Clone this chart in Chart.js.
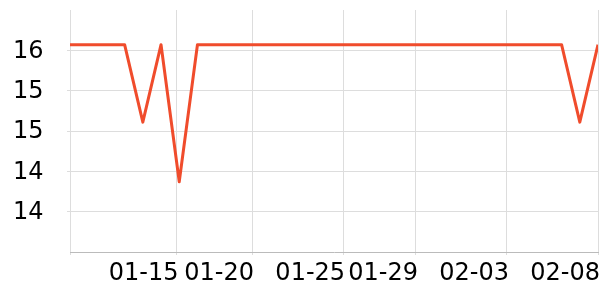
<!DOCTYPE html>
<html>
<head>
<meta charset="utf-8">
<script src="https://cdn.jsdelivr.net/npm/chart.js@4/dist/chart.umd.min.js"></script>
<style>
  body { margin: 0; background: #fff; }
  #wrap { width: 600px; height: 300px; }
</style>
</head>
<body>
<div id="wrap"><canvas id="chart" width="600" height="300"></canvas></div>
<script>
// one value per day, 01-10 .. 02-08
const dates = ['01-10', '01-11', '01-12', '01-13', '01-14', '01-15', '01-16', '01-17', '01-18', '01-19',
  '01-20', '01-21', '01-22', '01-23', '01-24', '01-25', '01-26', '01-27', '01-28', '01-29',
  '01-30', '01-31', '02-01', '02-02', '02-03', '02-04', '02-05', '02-06', '02-07', '02-08'];
const values = [16.07, 16.07, 16.07, 16.07, 15.11, 16.07, 14.37, 16.07, 16.07, 16.07,
  16.07, 16.07, 16.07, 16.07, 16.07, 16.07, 16.07, 16.07, 16.07, 16.07,
  16.07, 16.07, 16.07, 16.07, 16.07, 16.07, 16.07, 16.07, 15.11, 16.07];

// x ticks (in days from first point) and their labels
const xTickPos = [0, 5.85, 10, 15, 19, 24, 29];
const xTickLabels = ['', '01-15', '01-20', '01-25', '01-29', '02-03', '02-08'];
// y ticks and labels as printed
const yTickPos = [14, 14.5, 15, 15.5, 16];
const yTickLabels = ['14', '14', '15', '15', '16'];

const gridColor = '#dddddd';

const ctx = document.getElementById('chart').getContext('2d');
new Chart(ctx, {
  type: 'line',
  data: {
    datasets: [{
      data: values.map((v, i) => ({ x: i, y: v })),
      borderColor: '#f04c2c',
      borderWidth: 3,
      borderJoinStyle: 'round',
      pointRadius: 0,
      tension: 0,
      fill: false
    }]
  },
  options: {
    responsive: false,
    animation: false,
    layout: { padding: { top: 10, right: 2, left: 13, bottom: 0 } },
    plugins: { legend: { display: false }, tooltip: { enabled: false } },
    scales: {
      x: {
        type: 'linear',
        min: 0,
        max: dates.length - 1,
        afterBuildTicks: s => { s.ticks = xTickPos.map(v => ({ value: v })); },
        afterFit: s => { s.height = 48; },
        grid: { color: gridColor, tickLength: 3 },
        border: { color: '#bbbbbb' },
        ticks: {
          autoSkip: false,
          maxRotation: 0,
          align: 'end',
          labelOffset: 2,
          padding: 2,
          color: '#000',
          font: { family: 'DejaVu Sans', size: 24, lineHeight: 1.42 },
          callback: (v, i) => xTickLabels[i]
        }
      },
      y: {
        min: 13.5,
        max: 16.5,
        afterBuildTicks: s => { s.ticks = yTickPos.map(v => ({ value: v })); },
        afterFit: s => { s.width = 57; },
        grid: { color: gridColor, tickLength: 3 },
        border: { display: false },
        ticks: {
          crossAlign: 'far',
          padding: 0,
          labelOffset: 1,
          color: '#000',
          font: { family: 'DejaVu Sans', size: 24, lineHeight: 0.8 },
          callback: (v, i) => yTickLabels[i]
        }
      }
    }
  }
});
</script>
</body>
</html>
